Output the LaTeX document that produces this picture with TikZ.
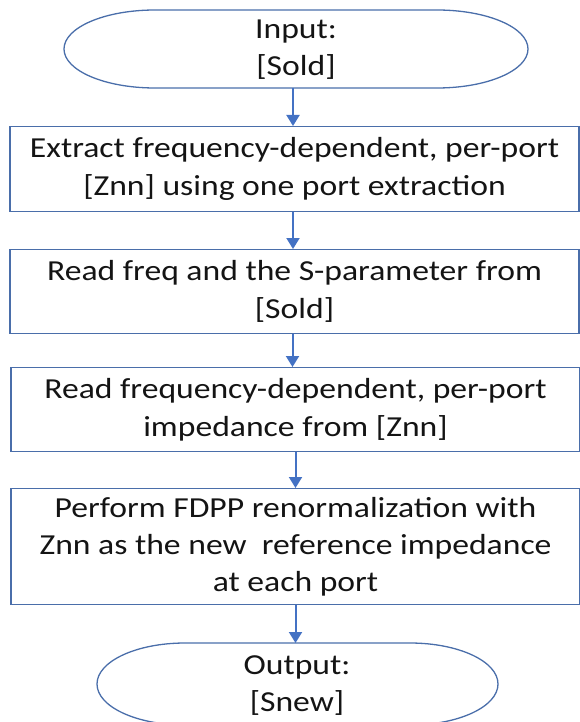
\documentclass[tikz,border=0pt]{standalone}
\usepackage{fontspec}
\setmainfont{Carlito}[FakeStretch=1.16]
\usetikzlibrary{arrows.meta}
\definecolor{boxblue}{RGB}{74,110,170}
\definecolor{arrblue}{RGB}{68,114,196}
\definecolor{txt}{RGB}{20,20,20}
\tikzset{
  x=1pt, y=-1pt,
  procbox/.style={draw=boxblue, line width=1.3pt, minimum width=569pt, align=center, text=txt,
    font=\fontsize{29}{38}\selectfont, inner sep=0pt, anchor=north},
  flowarrow/.style={draw=arrblue, line width=2pt, -{Triangle[width=13pt,length=11pt]}},
  termtext/.style={align=center, text=txt, font=\fontsize{29}{37}\selectfont, inner sep=0pt}
}
\begin{document}
\begin{tikzpicture}
\useasboundingbox (0,0) rectangle (580,722);
\clip (0,0) rectangle (580,722);
% input terminator
\draw[boxblue, line width=1.3pt] (155,10) -- (437,10) arc[start angle=-90, end angle=90, x radius=91, y radius=39] -- (155,88) arc[start angle=90, end angle=270, x radius=91, y radius=39] -- cycle;
\node[termtext] (in) at (296,50) {Input:\\{}[Sold]};
\coordinate (inb) at (293,88);
% output terminator
\draw[boxblue, line width=1.3pt] (185,643) -- (410,643) arc[start angle=-90, end angle=90, x radius=88, y radius=41] -- (185,725) arc[start angle=90, end angle=270, x radius=88, y radius=41] -- cycle;
\node[termtext] (out) at (297,686) {Output:\\{}[Snew]};
\coordinate (outt) at (296,643);
% process boxes
\node[procbox, minimum height=85pt] (b1) at (294.5,126) {Extract frequency-dependent, per-port\\{}[Znn] using one port extraction};
\node[procbox, minimum height=84pt] (b2) at (294.5,249) {Read freq and the S-parameter from\\{}[Sold]};
\node[procbox, minimum height=84pt] (b3) at (295.5,367) {Read frequency-dependent, per-port\\impedance from [Znn]};
\node[procbox, minimum height=116pt, font=\fontsize{29}{37}\selectfont] (b4) at (295.5,488) {Perform FDPP renormalization with\\Znn as the new\ \ reference impedance\\at each port};
% arrows
\draw[flowarrow] (inb) -- (inb |- b1.north);
\draw[flowarrow] (b1.south -| inb) -- (b2.north -| inb);
\draw[flowarrow] ([xshift=-2pt]b2.south) -- ([xshift=-2pt]b2.south |- b3.north);
\draw[flowarrow] (b3.south) -- (b4.north);
\draw[flowarrow] (b4.south) -- (b4.south |- outt);
\end{tikzpicture}
\end{document}
